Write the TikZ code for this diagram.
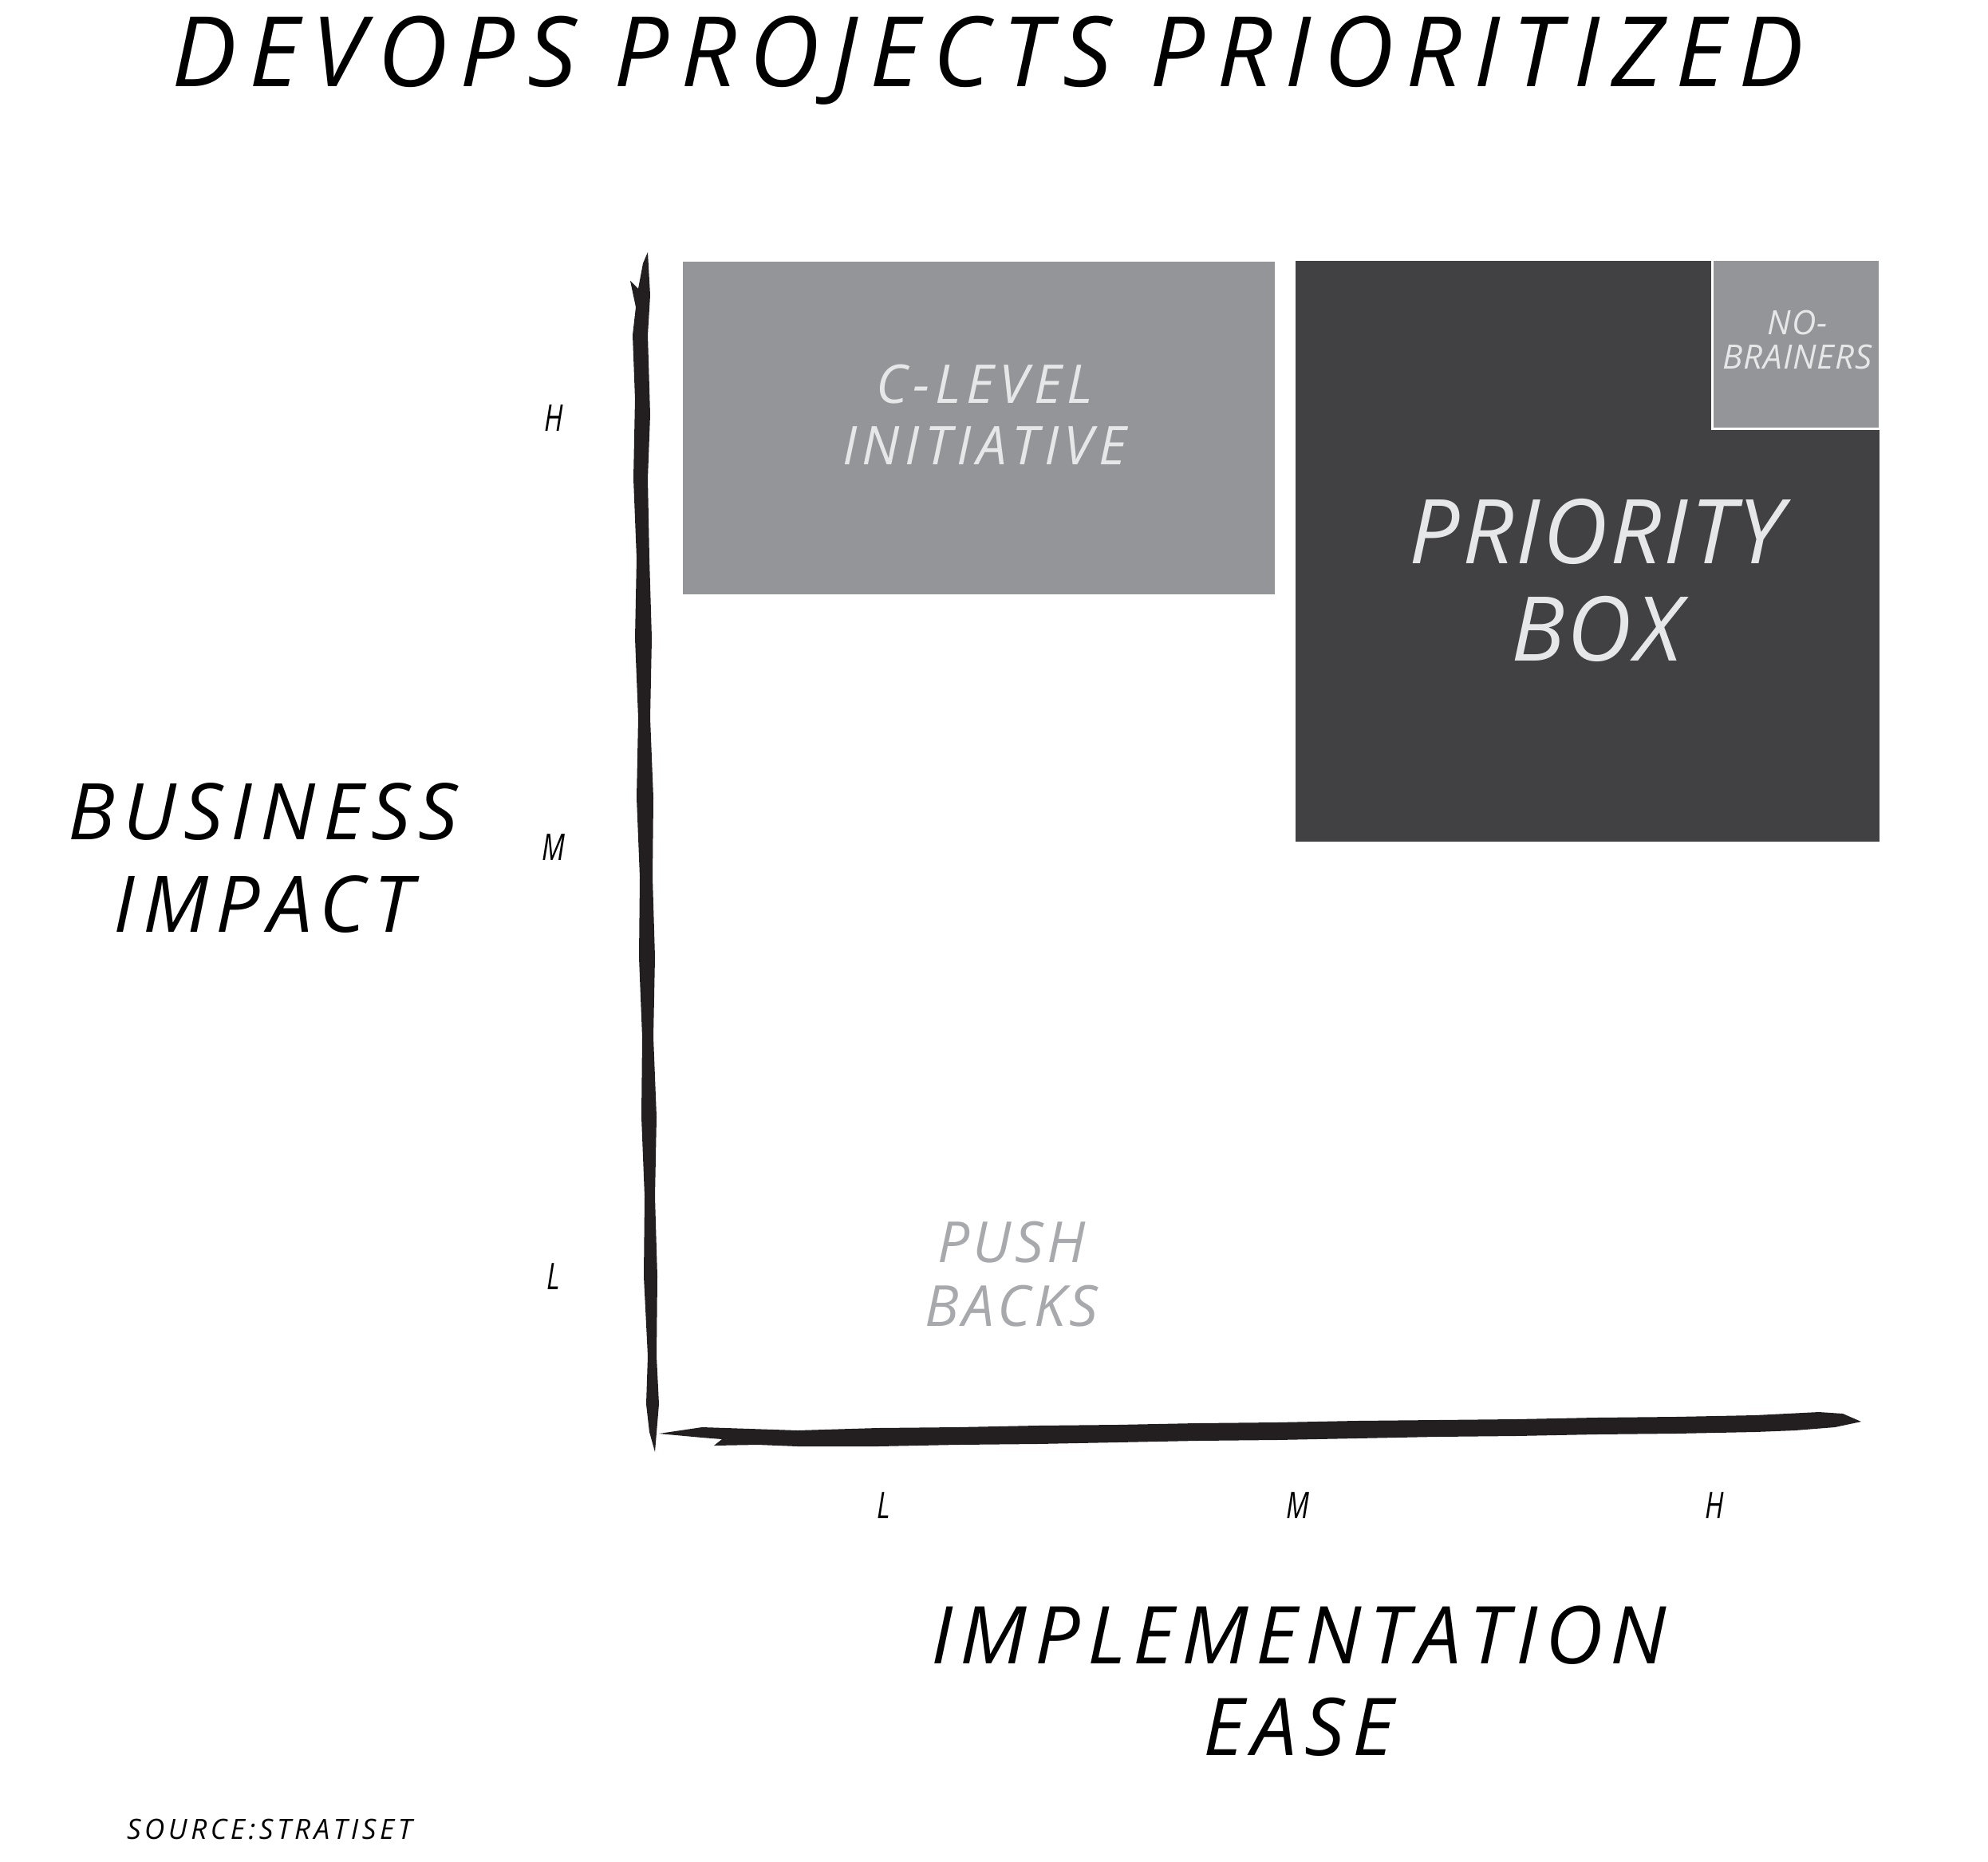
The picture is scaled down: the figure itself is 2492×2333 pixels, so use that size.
\documentclass[tikz,border=0pt]{standalone}
\usepackage{fontspec}
\setmainfont{Open Sans}
\definecolor{boxgray}{HTML}{939598}
\definecolor{boxdark}{HTML}{414042}
\definecolor{paletext}{HTML}{E6E7E8}
\definecolor{softtext}{HTML}{A7A9AC}
\definecolor{ink}{HTML}{231F20}
% size, line skip (mm) and letter spacing (percent of the size)
\newcommand{\hfs}[3]{\fontsize{#1mm}{#2mm}\selectfont\itshape\addfontfeatures{LetterSpace=#3}}
\begin{document}
\begin{tikzpicture}[x=0.1mm,y=-0.1mm,
  hand/.style={inner sep=0pt, outer sep=0pt, align=center},
  tick/.style={hand, font=\hfs{4.6}{5}{0}, text=black},
  axisink/.style={fill=ink, draw=none}]
\useasboundingbox (0,0) rectangle (2492,2333);

% title
\node[hand, anchor=base, font=\hfs{12.2}{14}{12.6}] (title) at (1238,108) {DEVOPS PROJECTS PRIORITIZED};

% quadrant boxes
\coordinate (cTL) at (856,328);  \coordinate (cBR) at (1598,745);
\coordinate (pTL) at (1624,327); \coordinate (pBR) at (2356,1055);
\coordinate (nTL) at (2146,325); \coordinate (nBR) at (2356,537);
\fill[boxgray] (cTL) rectangle (cBR);
\fill[boxdark] (pTL) rectangle (pBR);
\filldraw[fill=boxgray, draw=white, line width=0.3mm] (nTL) rectangle (nBR);

\node[hand, text=paletext, font=\hfs{6.7}{7.7}{10}] (clevel) at (1234,520) {C-LEVEL\\INITIATIVE};
\node[hand, text=paletext, font=\hfs{11.2}{12.2}{3}] (prio) at (2001,727) {PRIORITY\\BOX};
\node[hand, text=paletext, font=\hfs{4.2}{4.3}{2}] (nobrain) at (2253,426) {NO-\\BRAINERS};
\node[hand, text=softtext, font=\hfs{7.1}{8}{6}] (push) at (1268,1597) {PUSH\\BACKS};

% vertical axis, a rough brush stroke
\fill[axisink] (812,316) -- (815,370) -- (812,420) -- (815,520) -- (812,600) -- (814,700)
  -- (817,800) -- (815,900) -- (819,1000) -- (818,1100) -- (821,1200) -- (819,1300)
  -- (823,1400) -- (821,1500) -- (824,1600) -- (823,1700) -- (826,1760) -- (821,1820)
  -- (814,1795) -- (810,1760) -- (812,1700) -- (807,1600) -- (808,1500) -- (804,1400)
  -- (805,1300) -- (801,1200) -- (802,1100) -- (798,1000) -- (800,900) -- (796,800)
  -- (798,700) -- (794,600) -- (796,500) -- (793,420) -- (797,385) -- (790,352)
  -- (800,362) -- (806,330) -- cycle;

% horizontal axis, a rough brush stroke
\fill[axisink] (826,1797) -- (880,1789) -- (1000,1793) -- (1100,1790) -- (1200,1789)
  -- (1300,1787) -- (1400,1786) -- (1500,1784) -- (1600,1783) -- (1700,1781)
  -- (1800,1780) -- (1900,1779) -- (2000,1777) -- (2100,1776) -- (2200,1774)
  -- (2280,1770) -- (2310,1772) -- (2333,1782) -- (2300,1789) -- (2250,1793)
  -- (2200,1795) -- (2100,1797) -- (2000,1798) -- (1900,1800) -- (1800,1801)
  -- (1700,1803) -- (1600,1805) -- (1500,1806) -- (1400,1808) -- (1300,1810)
  -- (1200,1811) -- (1100,1813) -- (1000,1813) -- (950,1811) -- (895,1812)
  -- (905,1804) -- (880,1802) -- cycle;

% axis scale labels
\node[tick] (yH) at (694,524) {\scalebox{0.75}[1]{H}};
\node[tick] (yM) at (694,1062) {\scalebox{0.75}[1]{M}};
\node[tick] (yL) at (694,1600) {\scalebox{0.75}[1]{L}};
\node[tick] (xL) at (1108,1887) {\scalebox{0.75}[1]{L}};
\node[tick] (xM) at (1627,1887) {\scalebox{0.75}[1]{M}};
\node[tick] (xH) at (2149,1887) {\scalebox{0.75}[1]{H}};

% axis titles
\node[hand, font=\hfs{9.8}{11.6}{10}] (ylabel) at (330,1075) {BUSINESS\\IMPACT};
\node[hand, font=\hfs{10}{11.5}{9.5}] (xlabel) at (1628,2107) {IMPLEMENTATION\\EASE};

% credit line
\node[hand, anchor=base west, font=\hfs{3.5}{4}{13}] (source) at (159,2305) {SOURCE:STRATISET};
\end{tikzpicture}
\end{document}
